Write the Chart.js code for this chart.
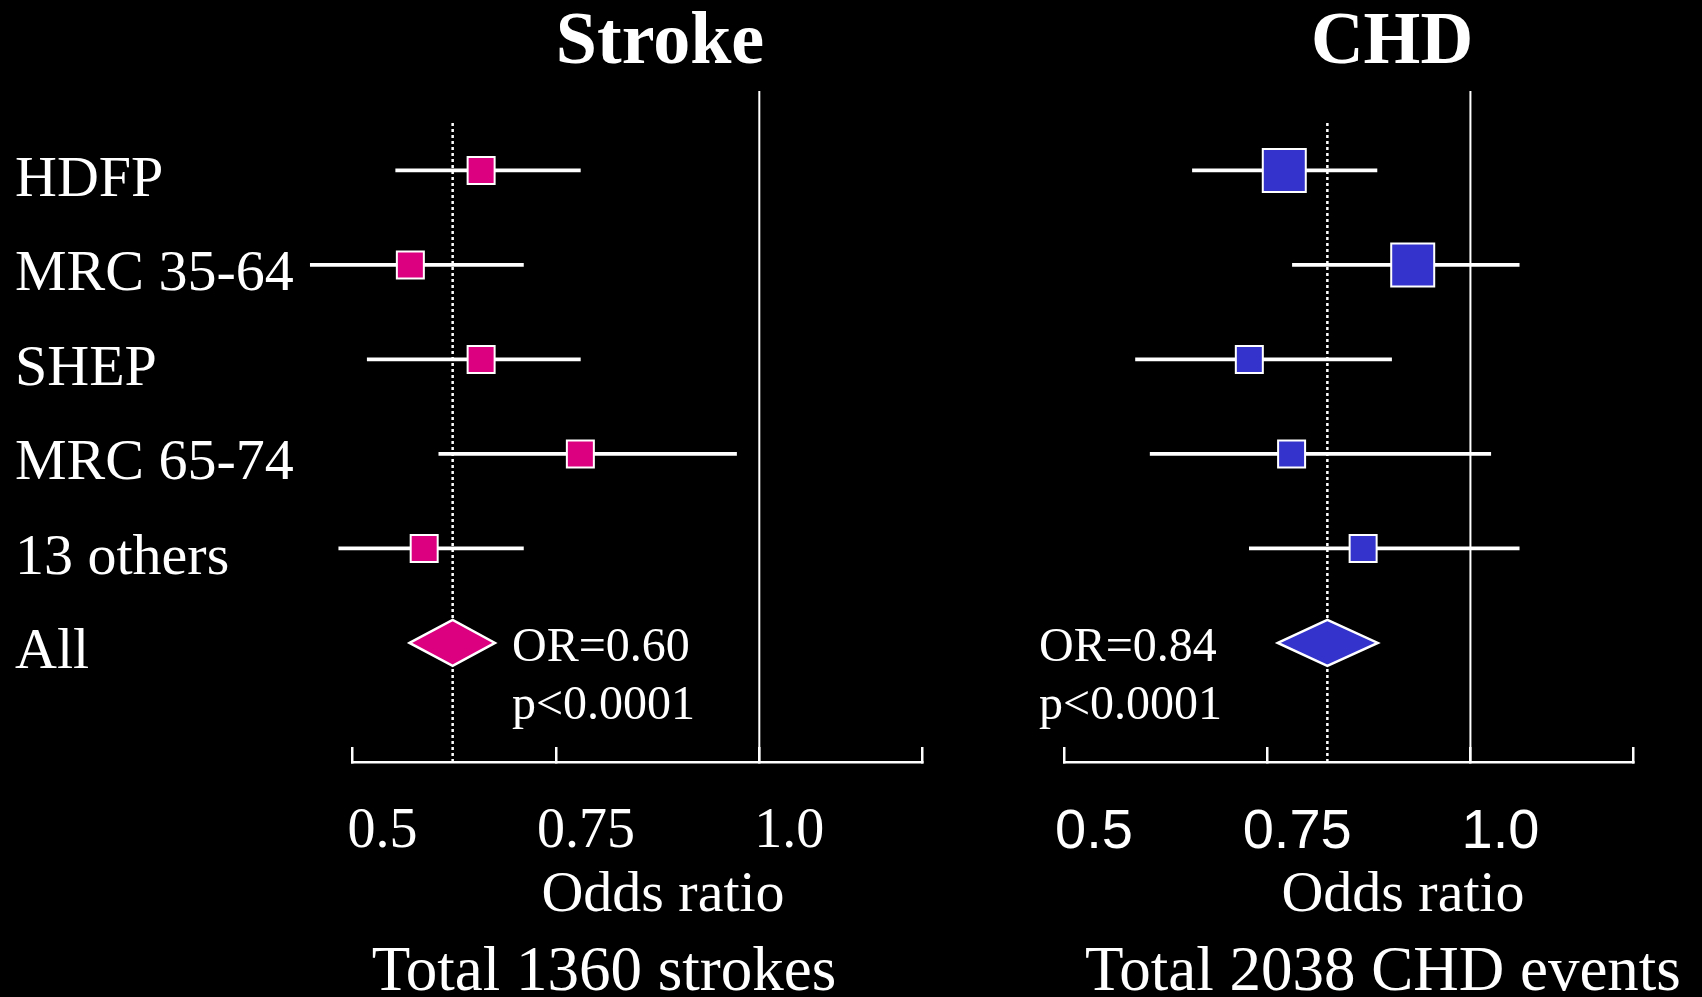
<!DOCTYPE html>
<html>
<head>
<meta charset="utf-8">
<title>Stroke and CHD odds ratios</title>
<script src="https://cdn.jsdelivr.net/npm/chart.js@4.4.1/dist/chart.umd.min.js"></script>
<style>
  html, body { margin: 0; padding: 0; background: #000; }
  #wrap { position: relative; width: 1702px; height: 997px; overflow: hidden; }
  #wrap canvas { position: absolute; left: 0; top: 0; }
</style>
</head>
<body>
<div id="wrap">
  <canvas id="strokeChart" width="1702" height="997"></canvas>
  <canvas id="chdChart" width="1702" height="997"></canvas>
</div>
<script>
// --- DATOS ---
const studies = ['HDFP', 'MRC 35-64', 'SHEP', 'MRC 65-74', '13 others', 'All'];
const xTickValues = [0.5, 0.75, 1.0, 1.2];
const xTickLabels = ['0.5', '0.75', '1.0', ''];

const strokeOR = [0.658, 0.571, 0.658, 0.780, 0.588];
const strokeLow = [0.553, 0.448, 0.518, 0.606, 0.483];
const strokeHigh = [0.780, 0.710, 0.780, 0.972, 0.710];
const strokePooled = [0.570, 0.623, 0.675]; // low, OR, high

const chdOR = [0.771, 0.929, 0.728, 0.780, 0.868];
const chdLow = [0.658, 0.781, 0.588, 0.606, 0.728];
const chdHigh = [0.885, 1.060, 0.903, 1.025, 1.060];
const chdPooled = [0.763, 0.824, 0.886];

// --- ESTILO ---
const PINK = '#dc0080';
const BLUE = '#3434cc';
const SERIF = "'Liberation Serif', 'Times New Roman', serif";
const SANS = "'Liberation Sans', Arial, sans-serif";
const strokeBoxSide = [27, 27, 27, 27, 27];
const chdBoxSide = [43, 43, 27, 27, 27];

// plugin: null line, pooled dotted line, diamond and free texts
const forestPlugin = {
    id: 'forest',
    beforeDatasetsDraw(chart, args, opts) {
        const { ctx, chartArea, scales: { x } } = chart;
        ctx.save();
        ctx.strokeStyle = '#fff';
        ctx.lineWidth = 2;
        const x1 = x.getPixelForValue(1);
        ctx.beginPath();
        ctx.moveTo(x1, chartArea.top);
        ctx.lineTo(x1, chartArea.bottom);
        ctx.stroke();

        const xp = x.getPixelForValue(opts.pooled[1]);
        ctx.setLineDash([3, 3]);
        ctx.lineWidth = 2.5;
        ctx.beginPath();
        ctx.moveTo(xp, chartArea.top + 32);
        ctx.lineTo(xp, chartArea.bottom);
        ctx.stroke();
        ctx.restore();
    },
    afterDatasetsDraw(chart, args, opts) {
        const { ctx, scales: { x, y } } = chart;
        const yc = y.getPixelForValue(studies.length - 1);
        const xl = x.getPixelForValue(opts.pooled[0]);
        const xm = x.getPixelForValue(opts.pooled[1]);
        const xr = x.getPixelForValue(opts.pooled[2]);
        const h = 23;
        ctx.save();
        ctx.beginPath();
        ctx.moveTo(xl, yc);
        ctx.lineTo(xm, yc - h);
        ctx.lineTo(xr, yc);
        ctx.lineTo(xm, yc + h);
        ctx.closePath();
        ctx.fillStyle = opts.color;
        ctx.fill();
        ctx.strokeStyle = '#fff';
        ctx.lineWidth = 2.5;
        ctx.stroke();
        ctx.restore();
    },
    afterDraw(chart, args, opts) {
        const { ctx } = chart;
        ctx.save();
        ctx.fillStyle = '#fff';
        ctx.textBaseline = 'alphabetic';
        opts.texts.forEach(t => {
            ctx.font = `${t.bold ? 'bold ' : ''}${t.size}px ${SERIF}`;
            ctx.textAlign = t.align || 'center';
            ctx.fillText(t.text, t.x, t.y);
        });
        ctx.restore();
    }
};

const buildPanel = (canvasId, cfg) => {
    const rows = cfg.or.map((v, i) => i);
    return new Chart(document.getElementById(canvasId), {
        type: 'scatter',
        data: {
            datasets: [
                {
                    type: 'scatter',
                    data: rows.map(i => ({ x: cfg.or[i], y: i })),
                    pointStyle: 'rect',
                    pointRadius: cfg.boxSide.map(s => s / Math.SQRT2),
                    backgroundColor: cfg.color,
                    borderColor: '#fff',
                    borderWidth: 2,
                    clip: false,
                    order: 0
                },
                {
                    type: 'bar',
                    indexAxis: 'y',
                    data: rows.map(i => ({ y: i, x: [cfg.low[i], cfg.high[i]] })),
                    backgroundColor: '#fff',
                    borderWidth: 0,
                    barThickness: 3,
                    grouped: false,
                    clip: false,
                    order: 1
                }
            ]
        },
        options: {
            responsive: false,
            animation: false,
            events: [],
            layout: { padding: cfg.padding },
            scales: {
                x: {
                    type: 'linear',
                    min: 0.5,
                    max: 1.2,
                    offset: false,
                    afterBuildTicks: s => { s.ticks = xTickValues.map(v => ({ value: v })); },
                    afterFit: s => { s.height = 235; },
                    ticks: {
                        callback: v => xTickLabels[xTickValues.indexOf(v)],
                        color: '#fff',
                        font: { family: cfg.tickFont, size: 56 },
                        padding: 52,
                        labelOffset: 30,
                        autoSkip: false,
                        maxRotation: 0
                    },
                    grid: {
                        offset: false,
                        drawOnChartArea: false,
                        drawTicks: true,
                        tickLength: -15,
                        color: '#fff',
                        lineWidth: 2.5
                    },
                    border: { display: true, color: '#fff', width: 2.5 }
                },
                y: {
                    type: 'linear',
                    reverse: true,
                    min: -0.84,
                    max: 6.26,
                    offset: false,
                    display: cfg.showLabels,
                    afterBuildTicks: s => { s.ticks = studies.map((c, i) => ({ value: i })); },
                    afterFit: s => { s.width = cfg.showLabels ? 337.6 : 0; },
                    ticks: {
                        callback: v => studies[v],
                        color: '#fff',
                        font: { family: SERIF, size: 58 },
                        crossAlign: 'far',
                        labelOffset: 10,
                        autoSkip: false
                    },
                    grid: { display: false, offset: false },
                    border: { display: false }
                }
            },
            plugins: {
                legend: { display: false },
                tooltip: { enabled: false },
                forest: { pooled: cfg.pooled, color: cfg.color, texts: cfg.texts }
            }
        },
        plugins: [forestPlugin]
    });
};

buildPanel('strokeChart', {
    or: strokeOR, low: strokeLow, high: strokeHigh, pooled: strokePooled,
    color: PINK, boxSide: strokeBoxSide, tickFont: SERIF, showLabels: true,
    padding: { left: 15, right: 780, top: 91, bottom: 0 },
    texts: [
        { text: 'Stroke', x: 660, y: 63, size: 74, bold: true },
        { text: 'OR=0.60', x: 512, y: 661, size: 48, align: 'left' },
        { text: 'p<0.0001', x: 512, y: 719, size: 48, align: 'left' },
        { text: 'Odds ratio', x: 663, y: 911, size: 58 },
        { text: 'Total 1360 strokes', x: 604, y: 990, size: 63 }
    ]
});

buildPanel('chdChart', {
    or: chdOR, low: chdLow, high: chdHigh, pooled: chdPooled,
    color: BLUE, boxSide: chdBoxSide, tickFont: SANS, showLabels: false,
    padding: { left: 1064, right: 69, top: 91, bottom: 0 },
    texts: [
        { text: 'CHD', x: 1392, y: 63, size: 73, bold: true },
        { text: 'OR=0.84', x: 1039, y: 661, size: 48, align: 'left' },
        { text: 'p<0.0001', x: 1039, y: 719, size: 48, align: 'left' },
        { text: 'Odds ratio', x: 1403, y: 911, size: 58 },
        { text: 'Total 2038 CHD events', x: 1383, y: 990, size: 63 }
    ]
});
</script>
</body>
</html>
